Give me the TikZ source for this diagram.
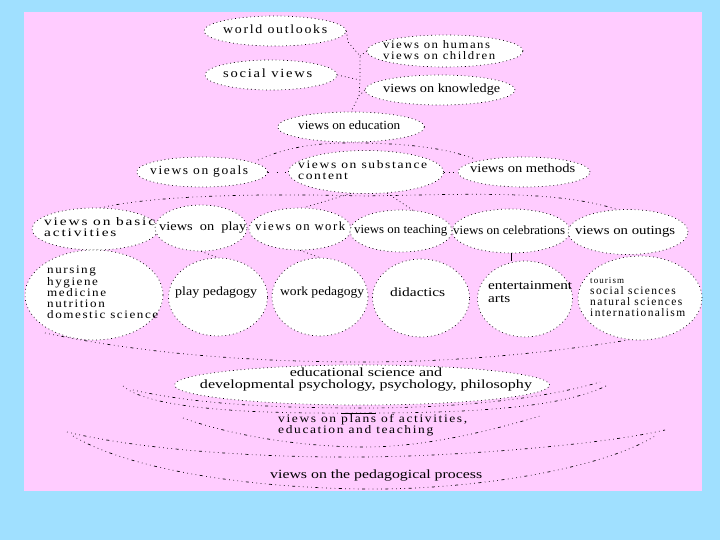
\documentclass[tikz,border=0pt]{standalone}
\usepackage{fontspec}
\setmainfont{Liberation Serif}
\usepackage{graphicx}
\usetikzlibrary{shapes.geometric}
\definecolor{bgblue}{RGB}{160,224,255}
\definecolor{bgpink}{RGB}{255,204,255}
\newcommand\fwl[2]{\resizebox{#1pt}{\height}{\begin{tabular}{@{}l@{}}#2\end{tabular}}}
\newcommand\fwc[2]{\resizebox{#1pt}{\height}{\begin{tabular}{@{}c@{}}#2\end{tabular}}}
\newcommand\spc{\addfontfeature{LetterSpace=12}}
\begin{document}
\begin{tikzpicture}[x=1pt,y=-1pt,
  ell/.style={ellipse, draw=black, fill=white, line width=0.7pt, dash pattern=on 0.8pt off 3pt, inner sep=0pt},
  txt/.style={inner sep=0pt, anchor=west, font=\fontsize{12.5}{12.5}\selectfont},
  mtxt/.style={inner sep=0pt, anchor=west, font=\fontsize{11.5}{10.8}\selectfont},
  link/.style={line width=0.7pt, dash pattern=on 0.8pt off 3pt},
  scan/.style={line width=0.7pt, dash pattern=on 0.7pt off 3.5pt on 0.7pt off 3.5pt on 0.7pt off 3.5pt on 0.7pt off 3.5pt on 3pt off 3.5pt}]
\useasboundingbox (0,0) rectangle (720,540);
\fill[bgblue] (0,0) rectangle (720,540);
\fill[bgpink] (24,12) rectangle (702,491);

% decorative arcs (behind the ellipses)
\draw[scan] (258,160) .. controls (290,146) and (320,142) .. (365,143) .. controls (410,144) and (445,148) .. (475,159);
\draw[scan] (100,208) .. controls (150,196) and (250,193) .. (365,196) .. controls (480,194) and (560,190) .. (622,211);
\draw[scan] (45,333) .. controls (150,355) and (260,362) .. (365,362) .. controls (470,362) and (570,350) .. (640,338);
\draw[scan] (133,390) .. controls (200,405) and (280,408) .. (365,408) .. controls (450,408) and (540,400) .. (600,382);
\draw[scan] (123,386) .. controls (150,410) and (260,414) .. (365,413) .. controls (470,413) and (560,408) .. (606,386);
\draw[scan] (183,418) .. controls (230,435) and (300,447) .. (365,447) .. controls (430,447) and (500,428) .. (540,416);
\draw[scan] (67,432) .. controls (150,452) and (280,458) .. (365,457) .. controls (460,456) and (600,445) .. (665,430);
\draw[scan] (73,436) .. controls (130,470) and (250,488) .. (365,489) .. controls (470,490) and (600,470) .. (655,436);

% ellipses
\node[ell, minimum width=142pt, minimum height=30pt] (wo) at (275,31) {};
\node[ell, minimum width=156pt, minimum height=32pt] (hum) at (445,51) {};
\node[ell, minimum width=132pt, minimum height=30pt] (soc) at (271,75) {};
\node[ell, minimum width=150pt, minimum height=30pt] (kno) at (440,90) {};
\node[ell, minimum width=147pt, minimum height=30pt] (edu) at (351,127) {};
\node[ell, minimum width=131pt, minimum height=30pt] (goals) at (202,172) {};
\node[ell, minimum width=155pt, minimum height=43pt] (subst) at (366,172) {};
\node[ell, minimum width=132pt, minimum height=30pt] (meth) at (524,172) {};
\node[ell, minimum width=126pt, minimum height=42pt] (basic) at (95,229) {};
\node[ell, minimum width=92pt, minimum height=46pt] (play) at (201,228) {};
\node[ell, minimum width=102pt, minimum height=42pt] (work) at (300,229) {};
\node[ell, minimum width=102pt, minimum height=42pt] (teach) at (401,231) {};
\node[ell, minimum width=118pt, minimum height=44pt] (celeb) at (511,231) {};
\node[ell, minimum width=120pt, minimum height=45pt] (outing) at (628,232) {};
\node[ell, minimum width=138pt, minimum height=90pt] (nurs) at (94,295) {};
\node[ell, minimum width=99pt, minimum height=78pt] (ppeda) at (218,297) {};
\node[ell, minimum width=96pt, minimum height=78pt] (wpeda) at (320,297) {};
\node[ell, minimum width=97pt, minimum height=78pt] (did) at (421,298) {};
\node[ell, minimum width=95pt, minimum height=76pt] (ent) at (525,299) {};
\node[ell, minimum width=124pt, minimum height=84pt] (tour) at (640,298) {};
\node[ell, minimum width=375pt, minimum height=40pt] (educ) at (362,385) {};

% connectors
\coordinate (t1) at (348,42);
\coordinate (t2) at (360,56);
\coordinate (t3) at (360,80);
\coordinate (t4) at (359,96);
\draw[link] (wo.east) -- (t1) -- (t2) -- (t3) -- (t4) -- (edu.north);
\draw[link] (hum.west) -- (t2);
\draw[link] (soc.east) -- (t3);
\draw[link] (kno.west) -- (t4);
\draw[line width=0.7pt, dash pattern=on 0.8pt off 8pt] (goals.east) -- (subst.west);
\draw[line width=0.7pt, dash pattern=on 0.8pt off 4pt] (subst.east) -- (meth.west);
\draw[link] (subst.235) -- (work.80);
\draw[link] (subst.315) -- (teach.60);
\draw[link] (play.south) -- (ppeda.north);
\draw[link] (work.south) -- (wpeda.north);
\draw[line width=0.7pt] (celeb.south) -- (celeb.south |- ent.north);

% texts
\node[txt] (wo-t) at (223,31) {\fwl{104}{\spc world outlooks}};
\node[mtxt] (hum-t) at (383,51.5) {\fwl{112}{\spc views on humans\\\spc views on children}};
\node[txt] (soc-t) at (223,75) {\fwl{89}{\spc social views}};
\node[txt] (kno-t) at (383,90) {\fwl{117}{views on knowledge}};
\node[txt] (edu-t) at (298,127) {\fwl{102}{views on education}};
\node[txt] (goals-t) at (150,172) {\fwl{98}{\spc views on goals}};
\node[mtxt] (subst-t) at (298,172) {\fwl{129}{\spc views on substance\\\spc content}};
\node[txt] (meth-t) at (470,170) {\fwl{105}{views on methods}};
\node[mtxt] (basic-t) at (44,229) {\fwl{111}{\spc views on basic\\\spc activities}};
\node[txt] (play-t) at (159,228) {\fwl{87}{views \ on \ play}};
\node[txt] (work-t) at (255,228) {\fwl{90}{\spc views on work}};
\node[txt] (teach-t) at (354,231) {\fwl{93}{views on teaching}};
\node[txt] (celeb-t) at (453,232) {\fwl{112}{views on celebrations}};
\node[txt] (outing-t) at (575,232) {\fwl{100}{views on outings}};
\node[mtxt] (nurs-t) at (47,294) {\fwl{111}{\spc nursing\\\spc hygiene\\\spc medicine\\\spc nutrition\\\spc domestic science}};
\node[txt] (ppeda-t) at (175,293) {\fwl{82}{play pedagogy}};
\node[txt] (wpeda-t) at (280,293) {\fwl{84}{work pedagogy}};
\node[txt] (did-t) at (390,294) {\fwl{55}{didactics}};
\node[txt, font=\fontsize{12.5}{12.5}\selectfont] (ent-t) at (488,293.5) {\fwl{84}{entertainment\\arts}};
\node[mtxt] (tour-t) at (590,298) {\fwl{95}{{\fontsize{9}{9}\selectfont\spc tourism}\\\spc social sciences\\\spc natural sciences\\\spc internationalism}};
\node[txt, anchor=center, font=\fontsize{12.5}{12}\selectfont] (educ-t) at (366,380) {\fwc{332}{educational science and\\developmental psychology, psychology, philosophy}};
\node[mtxt] (plans-t) at (278,425) {\fwl{189}{\spc views on $\overline{\mbox{plans}}$ of activities,\\\spc education and teaching}};
\node[txt] (proc-t) at (270,476) {\fwl{212}{views on the pedagogical process}};
\end{tikzpicture}
\end{document}
